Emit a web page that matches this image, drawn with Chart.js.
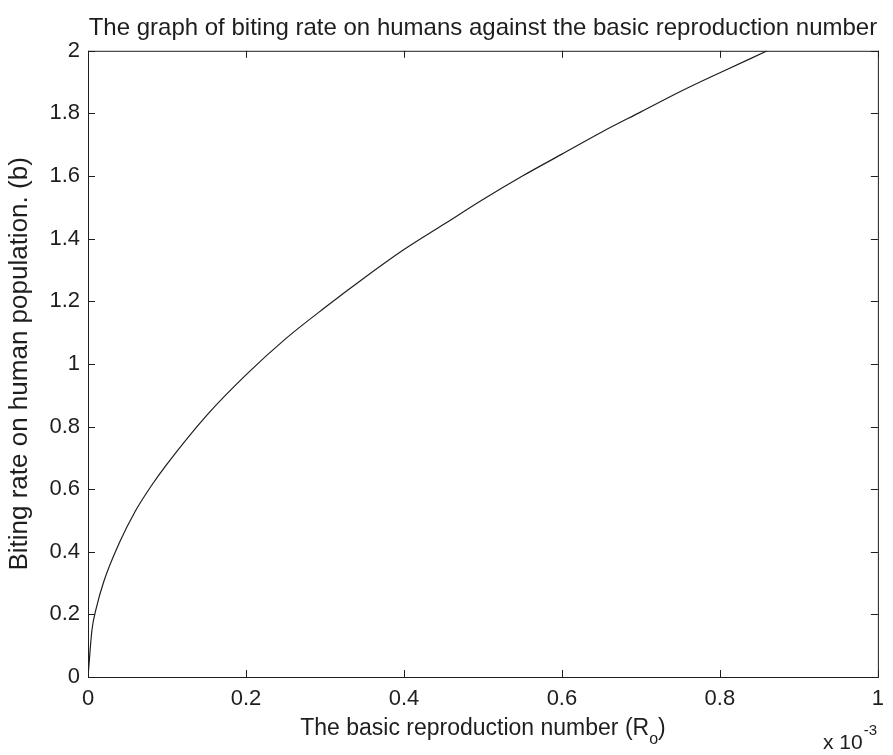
<!DOCTYPE html>
<html>
<head>
<meta charset="utf-8">
<script src="https://cdn.jsdelivr.net/npm/chart.js@4/dist/chart.umd.min.js"></script>
<style>
  html, body { margin: 0; padding: 0; background: #fff; }
  #wrap { width: 893px; height: 755px; }
</style>
</head>
<body>
<div id="wrap"><canvas id="bitingChart" width="893" height="755"></canvas></div>
<script>
// Basic reproduction number, in units of 10^-3 (axis shows "x 10^-3")
const r0Values = [0, 0.005, 0.01, 0.02, 0.04, 0.06, 0.08, 0.1, 0.15, 0.2, 0.25, 0.3, 0.35,
    0.4, 0.45, 0.5, 0.55, 0.6, 0.65, 0.7, 0.75, 0.8, 0.86];
// Biting rate on human population (b)
const bitingRate = [0, 0.15, 0.215, 0.305, 0.43, 0.53, 0.61, 0.68, 0.835, 0.965, 1.08, 1.18, 1.275,
    1.365, 1.445, 1.525, 1.6, 1.67, 1.74, 1.805, 1.87, 1.93, 2.0];

const xTickValues = [0, 0.2, 0.4, 0.6, 0.8, 1];
const xTickLabels = ['0', '0.2', '0.4', '0.6', '0.8', '1'];
const yTickValues = [0, 0.2, 0.4, 0.6, 0.8, 1, 1.2, 1.4, 1.6, 1.8, 2];
const yTickLabels = ['0', '0.2', '0.4', '0.6', '0.8', '1', '1.2', '1.4', '1.6', '1.8', '2'];

const FONT = 'Liberation Sans, Arial, Helvetica, sans-serif';
const INK = '#1e1e1e';

// Draws the matlab-like box, inward ticks on all four sides and the x label with subscript
const boxPlugin = {
    id: 'matlabBox',
    afterDraw(chart) {
        const ctx = chart.ctx;
        const area = chart.chartArea;
        const xs = chart.scales.x;
        const ys = chart.scales.y;
        const len = 7;
        ctx.save();
        ctx.strokeStyle = INK;
        ctx.lineWidth = 1;
        ctx.strokeRect(area.left + 0.5, area.top + 0.5, area.right - area.left, area.bottom - area.top);
        ctx.beginPath();
        xTickValues.forEach(v => {
            const px = Math.round(xs.getPixelForValue(v)) + 0.5;
            ctx.moveTo(px, area.bottom); ctx.lineTo(px, area.bottom - len);
            ctx.moveTo(px, area.top); ctx.lineTo(px, area.top + len);
        });
        yTickValues.forEach(v => {
            const py = Math.round(ys.getPixelForValue(v)) + 0.5;
            ctx.moveTo(area.left, py); ctx.lineTo(area.left + len, py);
            ctx.moveTo(area.right, py); ctx.lineTo(area.right - len, py);
        });
        ctx.stroke();

        // x axis title: The basic reproduction number (R_o)
        ctx.fillStyle = INK;
        ctx.textBaseline = 'alphabetic';
        const main = 'The basic reproduction number (R';
        ctx.font = '23px ' + FONT;
        const w1 = ctx.measureText(main).width;
        const w3 = ctx.measureText(')').width;
        ctx.font = '16px ' + FONT;
        const w2 = ctx.measureText('o').width;
        const cx = (area.left + area.right) / 2;
        let x = cx - (w1 + w2 + w3) / 2;
        const base = 735;
        ctx.textAlign = 'left';
        ctx.font = '23px ' + FONT;
        ctx.fillText(main, x, base);
        ctx.font = '16px ' + FONT;
        ctx.fillText('o', x + w1, base + 9);
        ctx.font = '23px ' + FONT;
        ctx.fillText(')', x + w1 + w2, base);

        // exponent note: x 10^-3
        ctx.font = '21px ' + FONT;
        ctx.fillText('x 10', 823, 749);
        const wx = ctx.measureText('x 10').width;
        ctx.font = '15px ' + FONT;
        ctx.fillText('-3', 823 + wx + 1, 735);
        ctx.restore();
    }
};

new Chart(document.getElementById('bitingChart'), {
    type: 'line',
    data: {
        datasets: [{
            data: r0Values.map((r, i) => ({x: r, y: bitingRate[i]})),
            borderColor: INK,
            borderWidth: 1.2,
            pointRadius: 0,
            fill: false,
            cubicInterpolationMode: 'monotone'
        }]
    },
    options: {
        responsive: false,
        animation: false,
        layout: {padding: {left: 0, right: 6, top: 0, bottom: 0}},
        plugins: {
            legend: {display: false},
            tooltip: {enabled: false},
            title: {
                display: true,
                fullSize: false,
                text: 'The graph of biting rate on humans against the basic reproduction number',
                color: INK,
                font: {family: FONT, size: 24, weight: 'normal'},
                padding: {top: 14, bottom: 8}
            }
        },
        scales: {
            x: {
                type: 'linear',
                min: 0,
                max: 1,
                afterBuildTicks: scale => { scale.ticks = xTickValues.map(v => ({value: v})); },
                afterFit: scale => { scale.height = 78; },
                grid: {display: false, drawTicks: false},
                border: {display: false},
                ticks: {
                    padding: 9,
                    color: INK,
                    font: {family: FONT, size: 22},
                    maxRotation: 0,
                    callback: (value, index) => xTickLabels[index]
                }
            },
            y: {
                type: 'linear',
                min: 0,
                max: 2,
                afterBuildTicks: scale => { scale.ticks = yTickValues.map(v => ({value: v})); },
                afterFit: scale => { scale.width = 88; },
                grid: {display: false, drawTicks: false},
                border: {display: false},
                title: {
                    display: true,
                    text: 'Biting rate on human population. (b)',
                    color: INK,
                    font: {family: FONT, size: 26},
                    padding: {top: 4, bottom: 0}
                },
                ticks: {
                    padding: 8,
                    color: INK,
                    font: {family: FONT, size: 22},
                    callback: (value, index) => yTickLabels[index]
                }
            }
        }
    },
    plugins: [boxPlugin]
});
</script>
</body>
</html>
